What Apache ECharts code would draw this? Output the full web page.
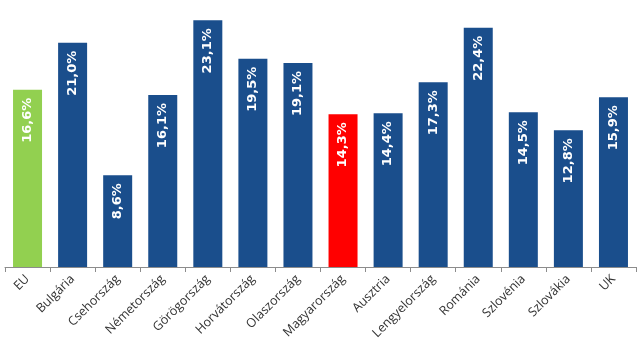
<!DOCTYPE html>
<html><head><meta charset="utf-8">
<script src="https://cdn.jsdelivr.net/npm/echarts@6/dist/echarts.min.js"></script>
<style>html,body{margin:0;padding:0;background:#fff}#c{width:644px;height:348px}</style>
</head><body><div id="c"></div>
<script>
const categories = ['EU','Bulgária','Csehország','Németország','Görögország','Horvátország','Olaszország','Magyarország','Ausztria','Lengyelország','Románia','Szlovénia','Szlovákia','UK'];
const values = [16.6,21.0,8.6,16.1,23.1,19.5,19.1,14.3,14.4,17.3,22.4,14.5,12.8,15.9];
const colors = ['#92D050','#1A4E8C','#1A4E8C','#1A4E8C','#1A4E8C','#1A4E8C','#1A4E8C','#FF0000','#1A4E8C','#1A4E8C','#1A4E8C','#1A4E8C','#1A4E8C','#1A4E8C'];
const chart = echarts.init(document.getElementById('c'), null, {renderer:'canvas'});
chart.setOption({
  animation:false,
  grid:{left:5,right:8,top:0,bottom:81,containLabel:false},
  xAxis:{type:'category',data:categories,
    axisLine:{lineStyle:{color:'#8c8c8c',width:1}},
    axisTick:{show:true,length:5,lineStyle:{color:'#8c8c8c'}},
    axisLabel:{rotate:45,color:'#333333',fontFamily:'Open Sans',fontSize:12.5,margin:10,interval:0}},
  yAxis:{type:'value',min:0,max:25,show:false,splitLine:{show:false}},
  series:[{type:'bar',barWidth:29,
    data:values.map((v,i)=>({value:v,itemStyle:{color:colors[i]}})),
    label:{show:true,position:'insideTop',rotate:90,align:'right',verticalAlign:'middle',distance:8,
      color:'#fff',fontWeight:'bold',fontSize:13,fontFamily:'DejaVu Sans',
      formatter:p=>p.value.toFixed(1).replace('.',',')+'%'}}]
});
</script></body></html>
